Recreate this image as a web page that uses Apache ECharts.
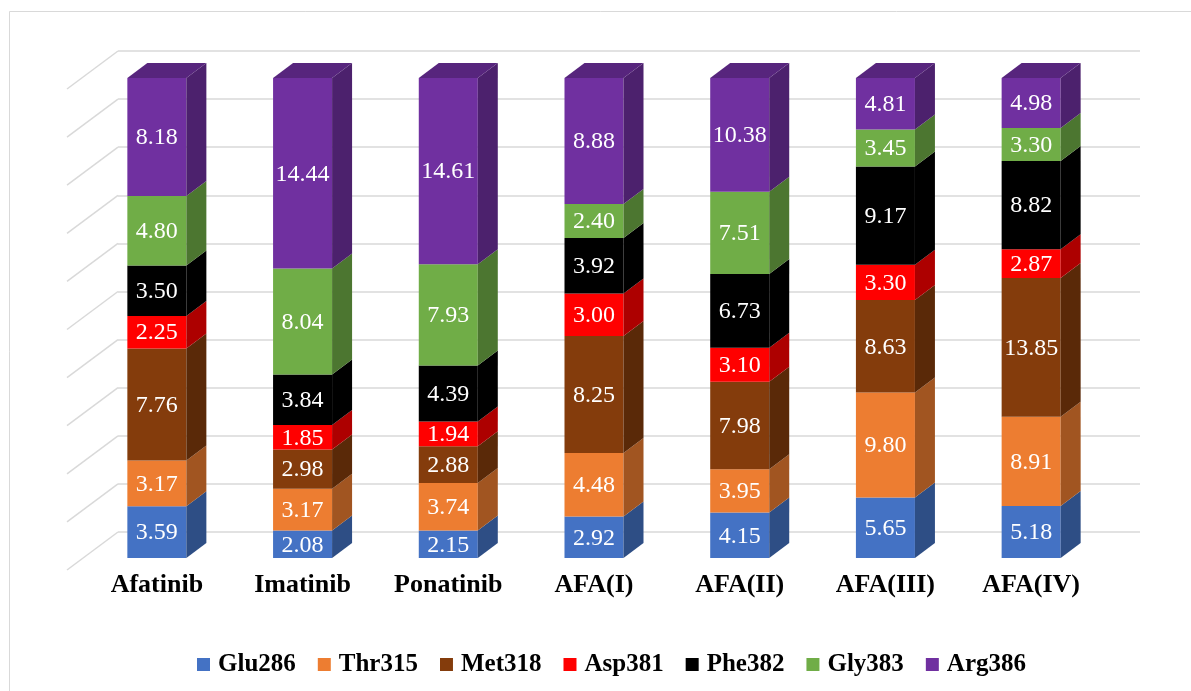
<!DOCTYPE html>
<html>
<head>
<meta charset="utf-8">
<script src="https://cdn.jsdelivr.net/npm/echarts@6/dist/echarts.min.js"></script>
<style>
  html, body { margin: 0; padding: 0; background: #fff; }
  #chart { width: 1191px; height: 691px; }
</style>
</head>
<body>
<div id="chart"></div>
<script>
// Ligands (x categories) and interacting residues (stack segments)
const categories = ['Afatinib', 'Imatinib', 'Ponatinib', 'AFA(I)', 'AFA(II)', 'AFA(III)', 'AFA(IV)'];
const residues = ['Glu286', 'Thr315', 'Met318', 'Asp381', 'Phe382', 'Gly383', 'Arg386'];

const glu286 = [3.59, 2.08, 2.15, 2.92, 4.15, 5.65, 5.18];
const thr315 = [3.17, 3.17, 3.74, 4.48, 3.95, 9.80, 8.91];
const met318 = [7.76, 2.98, 2.88, 8.25, 7.98, 8.63, 13.85];
const asp381 = [2.25, 1.85, 1.94, 3.00, 3.10, 3.30, 2.87];
const phe382 = [3.50, 3.84, 4.39, 3.92, 6.73, 9.17, 8.82];
const gly383 = [4.80, 8.04, 7.93, 2.40, 7.51, 3.45, 3.30];
const arg386 = [8.18, 14.44, 14.61, 8.88, 10.38, 4.81, 4.98];

// Percentage gridlines on the back wall
const gridTicks = [0, 10, 20, 30, 40, 50, 60, 70, 80, 90, 100];

const seriesValues = [glu286, thr315, met318, asp381, phe382, gly383, arg386];
const colors = ['#4472C4', '#ED7D31', '#843C0C', '#FF0000', '#000000', '#70AD47', '#7030A0'];

// 3D box depth offsets (px)
const DEPTH_X = 20, DEPTH_Y = -15;
// back wall to floor-front offset for the slanted floor lines
const WALL_X = -51, WALL_Y = 38;

function shade(hex, f) {
  const n = parseInt(hex.slice(1), 16);
  const r = Math.round(((n >> 16) & 255) * f);
  const g = Math.round(((n >> 8) & 255) * f);
  const b = Math.round((n & 255) * f);
  return 'rgb(' + r + ',' + g + ',' + b + ')';
}

// totals per ligand -> 100% stacking
const totals = categories.map((_, i) => seriesValues.reduce((s, arr) => s + arr[i], 0));

const FONT_SERIF = '"Liberation Serif", "Times New Roman", serif';

function makeRender(color, isTop) {
  const side = shade(color, 0.68);
  const topC = shade(color, 0.78);
  return function (params, api) {
    const x = api.value(0);
    const lo = api.value(1);
    const hi = api.value(2);
    const raw = api.value(3);
    const pLo = api.coord([x, lo]);
    const pHi = api.coord([x, hi]);
    const bw = api.size([1, 0])[0] * 0.405;
    const x0 = pLo[0] - bw / 2, x1 = pLo[0] + bw / 2;
    const yLo = pLo[1], yHi = pHi[1];
    const children = [
      {
        type: 'rect',
        shape: { x: x0, y: yHi, width: bw, height: yLo - yHi },
        style: { fill: color }
      },
      {
        type: 'polygon',
        shape: { points: [[x1, yLo], [x1 + DEPTH_X, yLo + DEPTH_Y], [x1 + DEPTH_X, yHi + DEPTH_Y], [x1, yHi]] },
        style: { fill: side }
      }
    ];
    if (isTop) {
      children.push({
        type: 'polygon',
        shape: { points: [[x0, yHi], [x0 + DEPTH_X, yHi + DEPTH_Y], [x1 + DEPTH_X, yHi + DEPTH_Y], [x1, yHi]] },
        style: { fill: topC }
      });
    }
    children.push({
      type: 'text',
      style: {
        x: pLo[0],
        y: (yLo + yHi) / 2 + 1,
        text: raw.toFixed(2),
        fill: '#ffffff',
        font: '24px ' + FONT_SERIF,
        align: 'center',
        verticalAlign: 'middle'
      }
    });
    return { type: 'group', children: children };
  };
}

const running = categories.map(() => 0);
const segmentSeries = residues.map((name, si) => {
  const data = categories.map((c, ci) => {
    const pct = seriesValues[si][ci] / totals[ci] * 100;
    const lo = running[ci];
    const hi = lo + pct;
    running[ci] = hi;
    return [ci, lo, hi, seriesValues[si][ci]];
  });
  return {
    name: name,
    type: 'custom',
    xAxisIndex: 0,
    yAxisIndex: 0,
    z: 5,
    itemStyle: { color: colors[si] },
    encode: { x: 0, y: [1, 2] },
    renderItem: makeRender(colors[si], si === residues.length - 1),
    data: data
  };
});

// slanted floor lines running from the back wall to the front
const floorLines = {
  type: 'custom',
  xAxisIndex: 1,
  yAxisIndex: 1,
  silent: true,
  z: 1,
  encode: { x: 0, y: 1 },
  renderItem: function (params, api) {
    const p = api.coord([0, api.value(1)]);
    return {
      type: 'line',
      shape: { x1: p[0], y1: p[1], x2: p[0] + WALL_X, y2: p[1] + WALL_Y },
      style: { stroke: '#d9d9d9', lineWidth: 1.5 }
    };
  },
  data: gridTicks.map(v => [0, v])
};

const option = {
  backgroundColor: '#ffffff',
  animation: false,
  graphic: [{
    type: 'rect',
    shape: { x: 9.5, y: 11.5, width: 1300, height: 800 },
    style: { fill: 'none', stroke: '#d9d9d9', lineWidth: 1 },
    silent: true
  }],
  grid: [
    { left: 84, right: 87, top: 78, bottom: 133 },
    { left: 118, right: 51, top: 51, bottom: 159 }
  ],
  xAxis: [
    {
      type: 'category',
      gridIndex: 0,
      data: categories,
      axisLine: { show: false },
      axisTick: { show: false },
      axisLabel: {
        margin: 14,
        color: '#000',
        fontSize: 26,
        fontWeight: 'bold',
        fontFamily: FONT_SERIF
      }
    },
    { type: 'value', gridIndex: 1, min: 0, max: 1, show: false }
  ],
  yAxis: [
    { type: 'value', gridIndex: 0, min: 0, max: 100, show: false },
    {
      type: 'value',
      gridIndex: 1,
      min: 0,
      max: 100,
      interval: 10,
      axisLine: { show: false },
      axisTick: { show: false },
      axisLabel: { show: false },
      splitLine: { show: true, lineStyle: { color: '#d9d9d9', width: 1.5 } }
    }
  ],
  legend: {
    data: residues,
    left: 192,
    top: 647,
    icon: 'rect',
    itemWidth: 13,
    itemHeight: 13,
    itemGap: 22,
    textStyle: {
      color: '#000',
      fontSize: 25,
      fontWeight: 'bold',
      fontFamily: FONT_SERIF,
      padding: [0, 0, 0, 3]
    }
  },
  series: [floorLines].concat(segmentSeries)
};

const chart = echarts.init(document.getElementById('chart'), null, { renderer: 'canvas' });
chart.setOption(option);
</script>
</body>
</html>
